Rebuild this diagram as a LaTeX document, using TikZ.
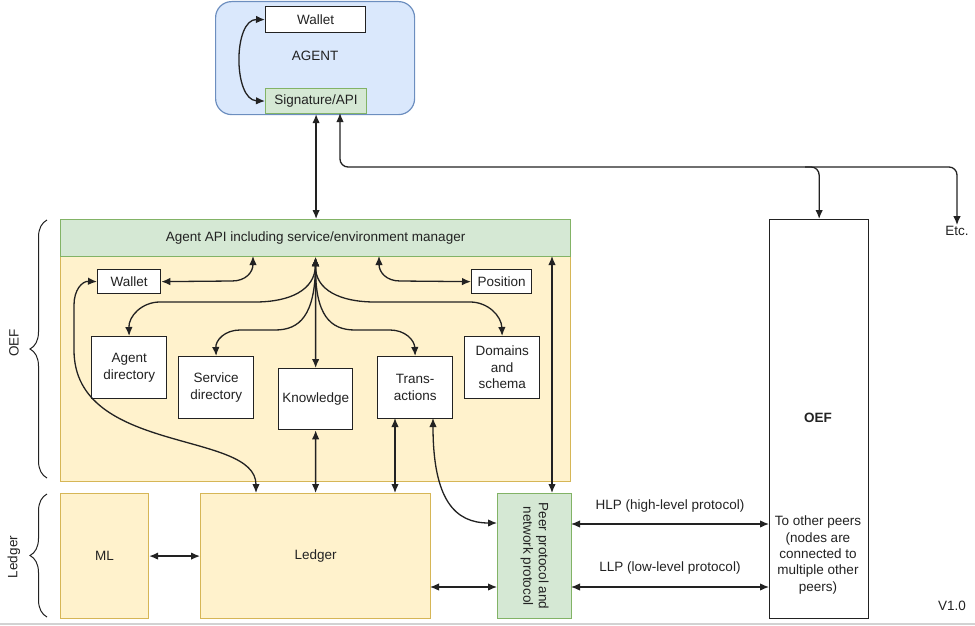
\documentclass[tikz,border=0pt]{standalone}
\usepackage{fontspec}
\setmainfont{Liberation Sans}
\usetikzlibrary{arrows.meta,decorations.pathreplacing,calc}
\definecolor{yfill}{HTML}{FFF2CC}
\definecolor{ydraw}{HTML}{D6B656}
\definecolor{gfill}{HTML}{D5E8D4}
\definecolor{gdraw}{HTML}{82B366}
\definecolor{bfill}{HTML}{DAE8FC}
\definecolor{bdraw}{HTML}{6C8EBF}
\definecolor{ink}{HTML}{222222}
\begin{document}
\begin{tikzpicture}[x=1pt,y=-1pt,
  font=\fontsize{13.5}{16.5}\selectfont,
  every node/.style={text=ink},
  >={Latex[length=9pt,width=7.5pt]},
  conn/.style={draw=ink,line width=1.3pt},
  ybox/.style={draw=ydraw,fill=yfill,line width=1.2pt,inner sep=0pt,anchor=north west},
  gbox/.style={draw=gdraw,fill=gfill,line width=1.2pt,inner sep=0pt,anchor=north west,align=center},
  wbox/.style={draw=ink,fill=white,line width=1.3pt,inner sep=0pt,align=center,anchor=north west},
  lbl/.style={inner sep=1pt,align=center},
]
\useasboundingbox (0,0) rectangle (975,626);

% AGENT
\node[draw=bdraw,fill=bfill,rounded corners=16pt,line width=1.2pt,inner sep=0pt,
      minimum width=199pt,minimum height=113pt,anchor=north west] (agent) at (215,1) {};
\node[lbl] (agentlbl) at (315,56) {AGENT};
\node[wbox,minimum width=100pt,minimum height=26pt] (wt) at (265,6) {Wallet};
\node[gbox,minimum width=101pt,minimum height=25pt] (sig) at (265,88) {Signature/API};

% OEF block
\node[ybox,minimum width=510pt,minimum height=225pt] (yel) at (60,256) {};
\node[gbox,minimum width=510pt,minimum height=37pt] (api) at (60,219) {Agent API including service/environment manager};
\node[wbox,minimum width=63pt,minimum height=24pt] (wal) at (97,269) {Wallet};
\node[wbox,minimum width=60pt,minimum height=24pt] (pos) at (471,269) {Position};
\node[wbox,minimum width=75pt,minimum height=62pt] (adir) at (91,336) {Agent\\directory};
\node[wbox,minimum width=75pt,minimum height=62pt] (sdir) at (178,356) {Service\\directory};
\node[wbox,minimum width=74pt,minimum height=61pt] (kn) at (278,368) {Knowledge};
\node[wbox,minimum width=75pt,minimum height=62pt] (tr) at (377,356) {Trans-\\actions};
\node[wbox,minimum width=75pt,minimum height=62pt] (dom) at (464,336) {Domains\\and\\schema};

% Ledger block
\node[ybox,minimum width=88pt,minimum height=125pt] (ml) at (60,493) {};
\node[lbl] at (ml.center) {ML};
\node[ybox,minimum width=230pt,minimum height=125pt] (led) at (200,493) {};
\node[lbl] at (led.center) {Ledger};
\node[gbox,minimum width=74pt,minimum height=125pt] (peer) at (497,493) {};
\node[lbl,rotate=-90,font=\fontsize{13.5}{15.5}\selectfont] at (peer.center) {Peer protocol and\\network protocol};

% right OEF
\node[wbox,minimum width=99pt,minimum height=399pt] (oef) at (769,219) {};
\node[lbl,font=\fontsize{13.5}{16.5}\selectfont\bfseries] at (818,418) {OEF};
\node[lbl,font=\fontsize{13.5}{16.3}\selectfont] at (818,555) {To other peers\\(nodes are\\connected to\\multiple other\\peers)};
\node[lbl] (etc) at (957,231) {Etc.};
\node[lbl] at (952,606) {V1.0};
\node[lbl] at (670,506) {HLP (high-level protocol)};
\node[lbl] at (670,568) {LLP (low-level protocol)};

% braces
\draw[ink,line width=1pt,decorate,decoration={brace,amplitude=17pt}] (47,478) -- (47,220);
\draw[ink,line width=1pt,decorate,decoration={brace,amplitude=17pt}] (47,617) -- (47,494);
\node[lbl,rotate=90] at (14,343) {OEF};
\node[lbl,rotate=90] at (14,557) {Ledger};

% coordinates
\coordinate (hline) at (0,167);
\coordinate (sigR) at (340,113);
\coordinate (aW) at (253,256);
\coordinate (aP) at (379,256);
\coordinate (aPeer) at (552,256);
\coordinate (lW) at (256,493);
\coordinate (lT) at (395,493);
\coordinate (tL) at (395,418);
\coordinate (tR) at (433,418);
\coordinate (pL) at (497,523);
\coordinate (pT) at (552,493);
\coordinate (lR) at (430,587);
\coordinate (pL2) at (497,587);
\coordinate (pR1) at (571,524);
\coordinate (pR2) at (571,587);

% connectors
\draw[conn,<->] (wt.west) .. controls (233,19) and (233,100) .. (sig.west);
\draw[conn,<->] (sig.south) -- (sig.south |- api.north);
\draw[conn,<->,rounded corners=8pt] (sigR) |- (etc.north |- hline) -- (etc.north);
\draw[conn,->,rounded corners=8pt] (805,167) -| (oef.north);

\draw[conn,<->] (wal.east) -- (232,281) .. controls (246,281) and (253,272) .. (aW);
\draw[conn,<->] (aP) .. controls (379,272) and (386,281) .. (400,281) -- (pos.west);

\draw[conn,<->] (api.south) -- (kn.north);
\draw[conn,<->] (api.south) .. controls (315,290) and (290,302) .. (255,302) -- (160,302) .. controls (142,302) and (128.5,316) .. (adir.north);
\draw[conn,<->] (api.south) .. controls (315,315) and (300,330) .. (275,330) -- (240,330) .. controls (225,330) and (215.5,340) .. (sdir.north);
\draw[conn,<->] (api.south) .. controls (315,315) and (330,330) .. (355,330) -- (390,330) .. controls (405,330) and (414.5,340) .. (tr.north);
\draw[conn,<->] (api.south) .. controls (315,290) and (340,302) .. (375,302) -- (470,302) .. controls (488,302) and (501.5,316) .. (dom.north);

\draw[conn,<->] (wal.west) .. controls (82,281) and (74,290) .. (74,305) -- (74,350) .. controls (74,455) and (256,430) .. (lW);
\draw[conn,<->] (kn.south) -- (led.north);
\draw[conn,<->] (tL) -- (lT);
\draw[conn,<->] (tR) .. controls (433,500) and (455,523) .. (pL);
\draw[conn,<->] (aPeer) -- (pT);
\draw[conn,<->] (ml.east) -- (led.west);
\draw[conn,<->] (lR) -- (pL2);
\draw[conn,<->] (pR1) -- (pR1 -| oef.west);
\draw[conn,<->] (pR2) -- (pR2 -| oef.west);

\draw[gray!35,line width=2pt] (0,624) -- (975,624);
\end{tikzpicture}
\end{document}
